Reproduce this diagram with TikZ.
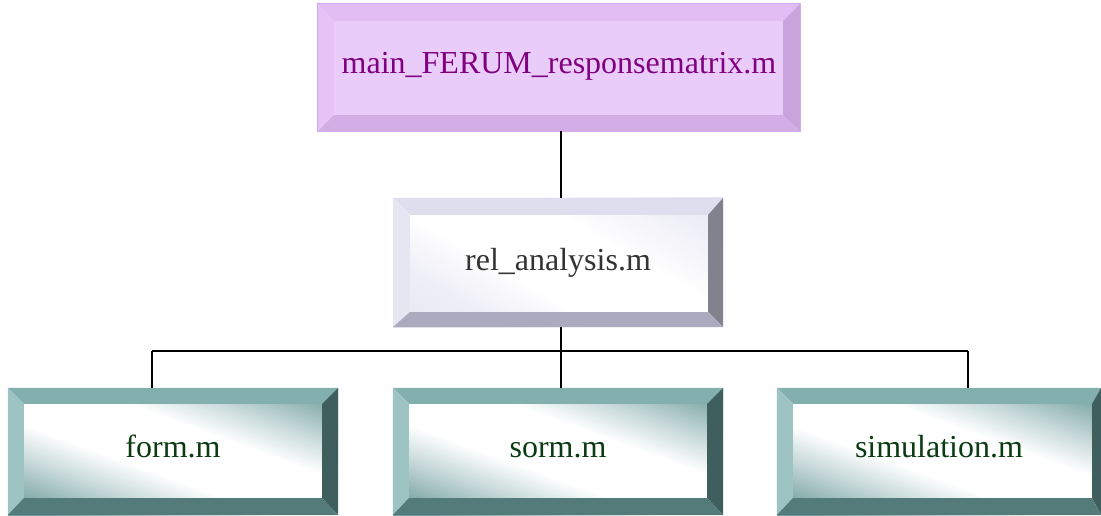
\documentclass[tikz,border=0pt]{standalone}
\usepackage{fontspec}
\setmainfont{Liberation Serif}
\usetikzlibrary{positioning}

\definecolor{lavFace}{HTML}{EACCFA}
\definecolor{lavTop}{HTML}{E2BDF4}
\definecolor{lavLeft}{HTML}{E6C3F6}
\definecolor{lavRight}{HTML}{C9A3DB}
\definecolor{lavBottom}{HTML}{D3AEE6}
\definecolor{lavEdge}{HTML}{D6A9EE}
\definecolor{lavText}{HTML}{800080}

\definecolor{grFaceC}{HTML}{DEDEEE}
\definecolor{grTop}{HTML}{DEDEEE}
\definecolor{grLeft}{HTML}{E6E6F2}
\definecolor{grRight}{HTML}{82828F}
\definecolor{grBottom}{HTML}{ABABC0}
\definecolor{grText}{HTML}{333333}

\definecolor{tlFaceC}{HTML}{78A2A2}
\definecolor{tlTop}{HTML}{83AFAE}
\definecolor{tlLeft}{HTML}{9EC3C3}
\definecolor{tlRight}{HTML}{3F5F5E}
\definecolor{tlBottom}{HTML}{527B7A}
\definecolor{tlText}{HTML}{0B3B12}

\pgfdeclarehorizontalshading{tealface}{100bp}{
  color(0bp)=(tlFaceC); color(22bp)=(tlFaceC);
  color(34bp)=(tlFaceC!40!white);
  color(43bp)=(white); color(58bp)=(white);
  color(67bp)=(tlFaceC!40!white);
  color(79bp)=(tlFaceC); color(100bp)=(tlFaceC)}
\pgfdeclarehorizontalshading{greyface}{100bp}{
  color(0bp)=(grFaceC); color(30bp)=(grFaceC!50!white);
  color(42bp)=(white); color(60bp)=(white);
  color(75bp)=(grFaceC!50!white); color(100bp)=(grFaceC)}

% bevel frame around a named node (shifts are in page directions: +y is up)
% args: name, left, top, right, bottom widths, colours top/left/right/bottom
\newcommand\bevelframe[9]{%
  \fill[#6] (#1.north west) -- (#1.north east) -- ([shift={(-#4,-#3)}]#1.north east) -- ([shift={(#2,-#3)}]#1.north west) -- cycle;
  \fill[#7] (#1.north west) -- ([shift={(#2,-#3)}]#1.north west) -- ([shift={(#2,#5)}]#1.south west) -- (#1.south west) -- cycle;
  \fill[#8] (#1.north east) -- (#1.south east) -- ([shift={(-#4,#5)}]#1.south east) -- ([shift={(-#4,-#3)}]#1.north east) -- cycle;
  \fill[#9] (#1.south west) -- (#1.south east) -- ([shift={(-#4,#5)}]#1.south east) -- ([shift={(#2,#5)}]#1.south west) -- cycle;
}

\tikzset{
  boxbase/.style={rectangle, inner sep=0pt},
  label32/.style={font=\fontsize{32}{38}\selectfont, inner sep=0pt, text height=22pt, text depth=7pt},
  topbox/.style={boxbase, fill=lavFace},
  midbox/.style={boxbase, shading=greyface, shading angle=60},
  lowbox/.style={boxbase, shading=tealface, shading angle=70},
  link/.style={draw=black, line width=1.6pt}
}

\begin{document}
\begin{tikzpicture}[x=1pt, y={(0pt,-1pt)}]
  \useasboundingbox (0,0) rectangle (1101,516);

  % top box
  \node[topbox, minimum width=482pt, minimum height=127pt] (main) at (559,67.5) {};
  \bevelframe{main}{16pt}{17pt}{17pt}{16pt}{lavTop}{lavLeft}{lavRight}{lavBottom}
  \draw[lavEdge, line width=0.8pt] (main.north west) rectangle (main.south east);
  \node[label32, text=lavText] (maintext) at ([yshift=1pt]main.center) {main\_FERUM\_responsematrix.m};

  % middle box
  \node[midbox, minimum width=330pt, minimum height=129pt] (rel) at (558,262.5) {};
  \bevelframe{rel}{17pt}{17pt}{15pt}{15pt}{grTop}{grLeft}{grRight}{grBottom}
  \node[label32, text=grText] (reltext) at (rel.center) {rel\_analysis.m};

  % lower boxes
  \node[lowbox, minimum width=330pt, minimum height=127pt] (form) at (173,451.5) {};
  \bevelframe{form}{16pt}{16pt}{16pt}{17pt}{tlTop}{tlLeft}{tlRight}{tlBottom}
  \node[label32, text=tlText] (formtext) at ([yshift=2pt]form.center) {form.m};

  \node[lowbox, minimum width=330pt, minimum height=127pt] (sorm) at (558,451.5) {};
  \bevelframe{sorm}{16pt}{16pt}{16pt}{17pt}{tlTop}{tlLeft}{tlRight}{tlBottom}
  \node[label32, text=tlText] (sormtext) at ([yshift=2pt]sorm.center) {sorm.m};

  \node[lowbox, minimum width=324pt, minimum height=127pt] (sim) at (939,451.5) {};
  \bevelframe{sim}{16pt}{16pt}{9pt}{17pt}{tlTop}{tlLeft}{tlRight}{tlBottom}
  \node[label32, text=tlText] (simtext) at ([yshift=2pt]sim.center) {simulation.m};

  % connectors
  \coordinate (bus) at (561,351);
  \coordinate (busL) at (152,351);
  \coordinate (busR) at (968,351);
  \draw[link] (main.south -| bus) -- (rel.north -| bus);
  \draw[link] (rel.south -| bus) -- (bus);
  \draw[link] (busL) -- (busR);
  \draw[link] (busL) -- (busL |- form.north);
  \draw[link] (bus) -- (bus |- sorm.north);
  \draw[link] (busR) -- (busR |- sim.north);
\end{tikzpicture}
\end{document}
